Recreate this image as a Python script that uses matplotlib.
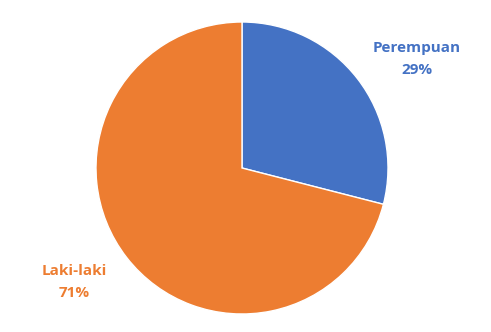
import matplotlib.pyplot as plt

# data
labels = ["Perempuan", "Laki-laki"]
values = [29, 71]
colors = ["#4472C4", "#ED7D31"]

fig = plt.figure(figsize=(4.91, 3.32), dpi=100)
ax = fig.add_axes([0, 0, 1, 1])

# pie drawn in pixel-like units so the layout matches the picture
ax.pie(values, colors=colors, startangle=90, counterclock=False,
       center=(242, 164), radius=146,
       wedgeprops=dict(edgecolor="white", linewidth=1))
ax.set_xlim(0, 491)
ax.set_ylim(0, 332)
ax.set_aspect("equal")
ax.axis("off")

label_pos = [(417, 273), (74, 50)]
for lab, val, col, (x, y) in zip(labels, values, colors, label_pos):
    ax.text(x, y, f"{lab}\n{val}%", color=col, fontsize=11,
            fontweight="bold", ha="center", va="center",
            family="Open Sans", linespacing=1.8)

fig.savefig("out.png", dpi=100, facecolor="white")
